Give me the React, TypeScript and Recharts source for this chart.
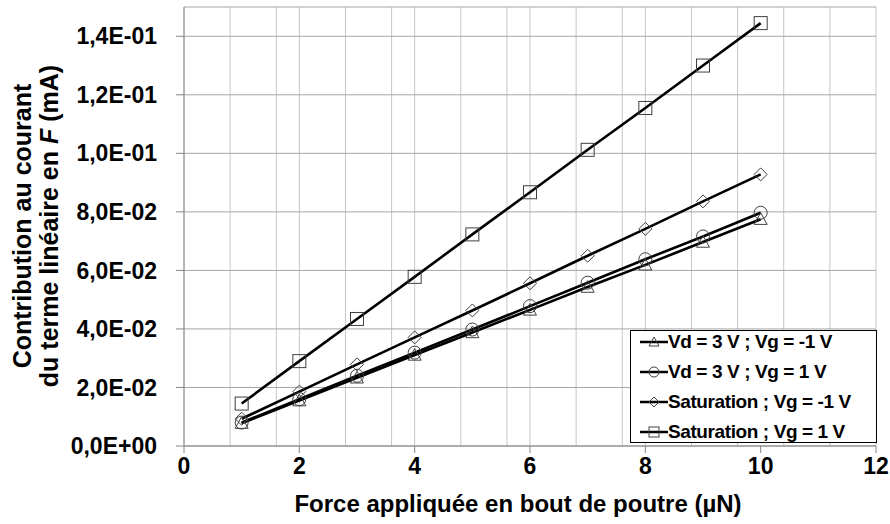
import React from 'react';
import { LineChart, Line, XAxis, YAxis, CartesianGrid, Legend } from 'recharts';

// force at the beam tip (µN)
const forces = [1, 2, 3, 4, 5, 6, 7, 8, 9, 10];

// linear-term current contribution (mA)
const vd3VgMinus1 = [0.0078, 0.0155, 0.0233, 0.0311, 0.0388, 0.0465, 0.0543, 0.0619, 0.0697, 0.0775];
const vd3Vg1 = [0.008, 0.016, 0.024, 0.0319, 0.0398, 0.0478, 0.0558, 0.0638, 0.0716, 0.0797];
const satVgMinus1 = [0.0093, 0.0186, 0.0279, 0.0371, 0.0463, 0.0556, 0.065, 0.0742, 0.0836, 0.0928];
const satVg1 = [0.0145, 0.029, 0.0434, 0.0578, 0.0723, 0.0867, 0.1012, 0.1155, 0.13, 0.1445];

const seriesNames = [
  'Vd = 3 V ; Vg = -1 V',
  'Vd = 3 V ; Vg = 1 V',
  'Saturation ; Vg = -1 V',
  'Saturation ; Vg = 1 V',
];
const seriesKeys = ['vd3m1', 'vd3p1', 'satm1', 'satp1'];
const seriesShapes = ['triangle', 'circle', 'diamond', 'square'];

const xTicks = [0, 2, 4, 6, 8, 10, 12];
const xMinorTicks = [
  0, 0.4, 0.8, 1.2, 1.6, 2, 2.4, 2.8, 3.2, 3.6, 4, 4.4, 4.8, 5.2, 5.6, 6,
  6.4, 6.8, 7.2, 7.6, 8, 8.4, 8.8, 9.2, 9.6, 10, 10.4, 10.8, 11.2, 11.6, 12,
];
const yTicks = [0, 0.02, 0.04, 0.06, 0.08, 0.1, 0.12, 0.14];

const data = forces.map((x, i) => ({
  x,
  vd3m1: vd3VgMinus1[i],
  vd3p1: vd3Vg1[i],
  satm1: satVgMinus1[i],
  satp1: satVg1[i],
}));

const FONT = '"Liberation Sans", Arial, sans-serif';
const AXIS_GRAY = '#868686';

// Excel-like scientific format with a decimal comma: 1,4E-01
const sci = (v: number) => {
  if (v === 0) return '0,0E+00';
  const e = Math.floor(Math.log10(v) + 1e-9);
  const m = v / Math.pow(10, e);
  const exp = (e < 0 ? '-' : '+') + String(Math.abs(e)).padStart(2, '0');
  return m.toFixed(1).replace('.', ',') + 'E' + exp;
};

const Marker = ({ cx, cy, shape, r = 6.5, stroke = '#404040' }: any) => {
  if (cx == null || cy == null) return null;
  const common = { fill: 'none', stroke, strokeWidth: 1 };
  if (shape === 'circle') return <circle cx={cx} cy={cy} r={r} {...common} />;
  if (shape === 'square')
    return <rect x={cx - r} y={cy - r} width={2 * r} height={2 * r} {...common} />;
  if (shape === 'diamond')
    return (
      <polygon
        points={`${cx},${cy - r} ${cx + r},${cy} ${cx},${cy + r} ${cx - r},${cy}`}
        {...common}
      />
    );
  return (
    <polygon
      points={`${cx},${cy - r} ${cx + r},${cy + r * 0.8} ${cx - r},${cy + r * 0.8}`}
      {...common}
    />
  );
};

const LegendBox = ({ payload }: any) => {
  // keep the series order, not the alphabetical one
  const entries = seriesNames
    .map((name) => (payload || []).find((p: any) => p.value === name))
    .filter(Boolean);
  return (
    <div
      style={{
        border: '1px solid #000',
        background: '#fff',
        height: 113,
        boxSizing: 'border-box',
        fontFamily: FONT,
      }}
    >
      <div style={{ marginTop: -4 }}>
        {entries.map((entry: any) => {
          const idx = seriesNames.indexOf(entry.value);
          return (
            <div
              key={entry.value}
              style={{ display: 'flex', alignItems: 'center', height: 30, paddingLeft: 9 }}
            >
              <svg width={28} height={16} style={{ flex: 'none' }}>
                <line x1={0} y1={8} x2={28} y2={8} stroke="#000" strokeWidth={2.5} />
                <Marker cx={14} cy={8} r={5} shape={seriesShapes[idx]} />
              </svg>
              <span
                style={{
                  fontSize: 19,
                  fontWeight: 'bold',
                  color: '#000',
                  letterSpacing: -0.4,
                  whiteSpace: 'nowrap',
                }}
              >
                {entry.value}
              </span>
            </div>
          );
        })}
      </div>
    </div>
  );
};

export default function App() {
  const tickStyle = { fill: '#000', fontSize: 23, fontWeight: 'bold', fontFamily: FONT };
  return (
    <div style={{ position: 'relative', width: 890, height: 524, background: '#fff' }}>
      <style>{'body{margin:0}'}</style>
      <LineChart
        width={890}
        height={524}
        data={data}
        margin={{ top: 7, right: 14, bottom: 48, left: 0 }}
        style={{ fontFamily: FONT }}
      >
        <XAxis xAxisId="minor" type="number" dataKey="x" domain={[0, 12]} ticks={xMinorTicks} hide />
        <CartesianGrid xAxisId="minor" horizontal={false} stroke="#c6c6c6" />
        <CartesianGrid vertical={false} stroke="#a6a6a6" />
        <XAxis
          type="number"
          dataKey="x"
          domain={[0, 12]}
          ticks={xTicks}
          allowDataOverflow
          height={30}
          stroke={AXIS_GRAY}
          tickSize={7}
          tickMargin={5}
          tick={tickStyle}
        />
        <YAxis
          type="number"
          domain={[0, 0.15]}
          ticks={yTicks}
          allowDataOverflow
          width={184}
          stroke={AXIS_GRAY}
          tickSize={8}
          tickMargin={19}
          tickFormatter={sci}
          tick={tickStyle}
        />
        {seriesKeys.map((k, i) => (
          <Line
            key={k}
            dataKey={k}
            name={seriesNames[i]}
            type="linear"
            stroke="#000"
            strokeWidth={2.6}
            isAnimationActive={false}
            activeDot={false}
            dot={(p: any) => (
              <Marker key={`${k}-${p.index}`} cx={p.cx} cy={p.cy} shape={seriesShapes[i]} />
            )}
          />
        ))}
        <Legend
          layout="vertical"
          align="center"
          verticalAlign="middle"
          content={<LegendBox />}
          wrapperStyle={{ left: 630, top: 330, width: 247, height: 116 }}
        />
      </LineChart>

      <div
        style={{
          position: 'absolute',
          left: 36,
          top: 226,
          width: 440,
          transform: 'translate(-50%, -50%) rotate(-90deg)',
          textAlign: 'center',
          fontFamily: FONT,
          fontWeight: 'bold',
          fontSize: 25,
          lineHeight: '27px',
          color: '#000',
          whiteSpace: 'nowrap',
        }}
      >
        <div>Contribution au courant</div>
        <div>
          du terme linéaire en <i>F</i> (mA)
        </div>
      </div>

      <div
        style={{
          position: 'absolute',
          left: 184,
          width: 668,
          top: 490,
          textAlign: 'center',
          fontFamily: FONT,
          fontWeight: 'bold',
          fontSize: 24,
          lineHeight: '28px',
          color: '#000',
          whiteSpace: 'nowrap',
        }}
      >
        Force appliquée en bout de poutre (µN)
      </div>
    </div>
  );
}
